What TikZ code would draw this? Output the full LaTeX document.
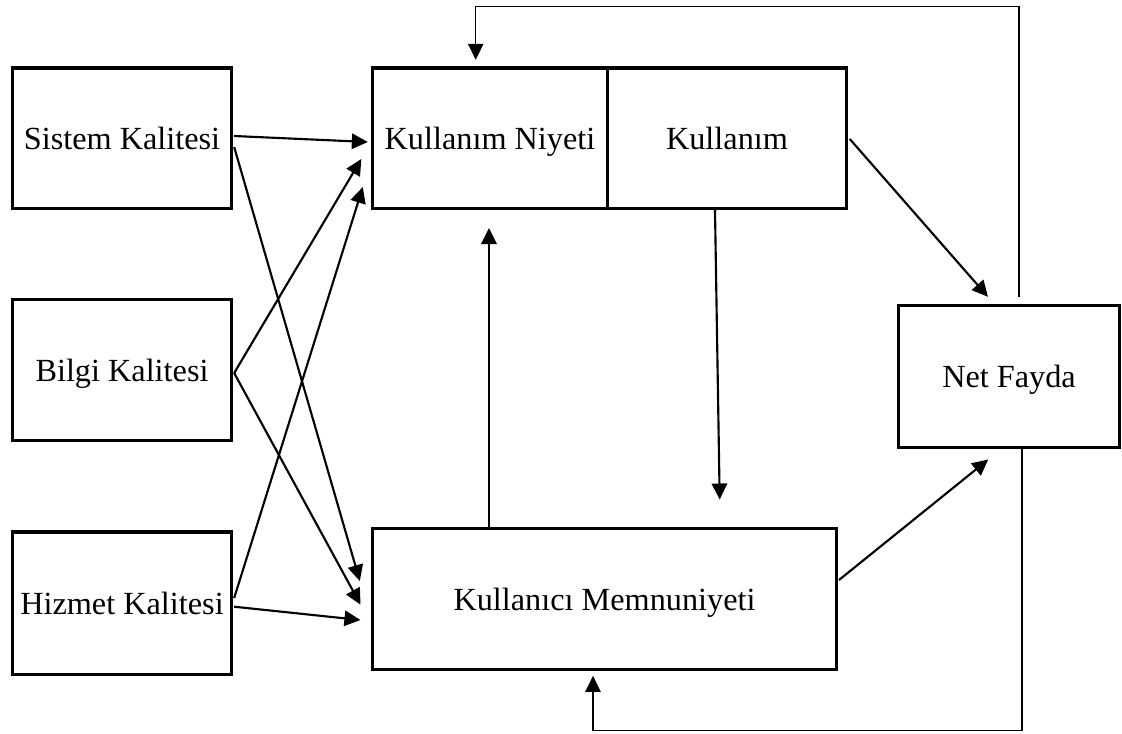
\documentclass[tikz,border=0pt]{standalone}
\usepackage{fontspec}
\setmainfont{Liberation Serif}
\usetikzlibrary{arrows.meta,calc}
\newdimen\pxu \pxu=0.75pt
\begin{document}
\begin{tikzpicture}[x=0.75pt,y=-0.75pt,
  box/.style={draw,line width=2.5pt,inner sep=0pt,align=center,text depth=0pt,font=\fontsize{24.2}{28}\selectfont},
  conn/.style={line width=1.6pt,-{Triangle[length=12pt,width=11.5pt]}},
  fb/.style={line width=1.1pt,-{Triangle[length=12pt,width=11.5pt]}}]
\useasboundingbox (0,0) rectangle (1122,733);
\node[box,minimum width=219\pxu,minimum height=140.3\pxu] (SK) at (122,138.3) {Sistem Kalitesi};
\node[box,minimum width=219\pxu,minimum height=141\pxu] (BK) at (122,370.3) {Bilgi Kalitesi};
\node[box,minimum width=219\pxu,minimum height=142.3\pxu] (HK) at (122,603.3) {Hizmet Kalitesi};
\node[box,minimum width=235\pxu,minimum height=140.3\pxu] (KN) at (490,138.3) {Kullanım Niyeti};
\node[box,minimum width=239\pxu,minimum height=140.3\pxu] (KU) at (727,138.3) {Kullanım};
\node[box,minimum width=464\pxu,minimum height=141\pxu] (KM) at (604.5,599) {Kullanıcı Memnuniyeti};
\node[box,minimum width=221\pxu,minimum height=142\pxu] (NF) at (1009,376.5) {Net Fayda};

\draw[conn] ($(SK.east)+(1,-2.3)$) -- ($(KN.west)+(-3,3.7)$);
\draw[conn] ($(SK.east)+(1,8.7)$) -- ($(KM.west)+(-11,-18)$);
\draw[conn] ($(BK.east)+(1,2.7)$) -- ($(KN.west)+(-9.5,20.7)$);
\draw[conn] ($(BK.east)+(1,2.7)$) -- ($(KM.west)+(-10.3,5.7)$);
\draw[conn] ($(HK.east)+(1,-5.3)$) -- ($(KN.west)+(-8,48.7)$);
\draw[conn] ($(HK.east)+(1,3.4)$) -- ($(KM.west)+(-10.4,21)$);
\draw[conn] ($(KM.north)+(-115.5,0)$) -- ($(KN.south)+(-1,18)$);
\draw[conn] ($(KU.south)+(-12,0)$) -- ($(KM.north)+(115.2,-27.3)$);
\draw[conn] ($(KU.east)+(1.6,0.7)$) -- ($(NF.north)+(-21,-7)$);
\draw[conn] ($(KM.east)+(0.8,-19)$) -- ($(NF.south)+(-20.7,10.3)$);

\coordinate (fbt) at ($(NF.north)+(9.8,-7.3)$);
\coordinate (fbb) at ($(NF.south)+(13,0)$);
\draw[fb] (fbt) -- ++(0,-290) -| ($(KN.north)+(-14.3,-6.7)$);
\draw[fb] (fbb) -- ++(0,281.3) -| ($(KM.south)+(-11.5,4.7)$);
\end{tikzpicture}
\end{document}
